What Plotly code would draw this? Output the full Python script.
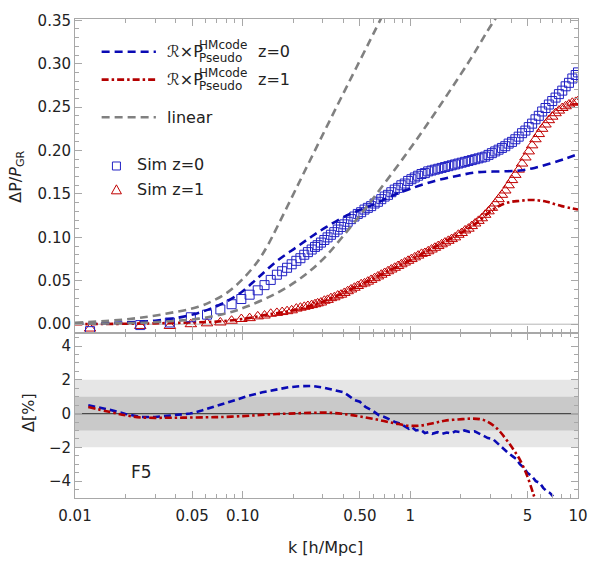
import plotly.graph_objects as go
from plotly.subplots import make_subplots

# ---------------- data ----------------
# linear predictions (top panel)
lin0_k = [0.01, 0.0211, 0.0347, 0.0544, 0.0665, 0.0816, 0.1, 0.1226, 0.1403, 0.1606, 0.2106, 0.2512,
          0.3626, 0.668, 0.8144]
lin0_v = [0.0015, 0.006, 0.012, 0.020, 0.027, 0.037, 0.052, 0.072, 0.090, 0.112, 0.158, 0.188,
          0.250, 0.352, 0.386]
lin1_k = [0.01, 0.0276, 0.0544, 0.0816, 0.1069, 0.1606, 0.2106, 0.258, 0.3162, 0.3877, 0.494, 0.623,
          0.97, 1.40, 2.0, 2.42, 2.87, 3.3]
lin1_v = [0.0005, 0.002, 0.0064, 0.013, 0.0206, 0.036, 0.050, 0.063, 0.079, 0.099, 0.124, 0.149,
          0.199, 0.243, 0.288, 0.313, 0.337, 0.355]

# HMcode x Reaction predictions (top panel)
hm0_k = [0.01, 0.02, 0.03, 0.04, 0.0544, 0.0665, 0.0816, 0.100, 0.1226, 0.1606, 0.2106, 0.258, 0.3162,
         0.4147, 0.5084, 0.623, 0.78, 1.0, 1.4, 1.92, 2.5, 3.5, 4.5, 5.5, 6.83, 8.5, 10.0]
hm0_v = [0.0005, 0.002, 0.004, 0.007, 0.013, 0.019, 0.027, 0.038, 0.053, 0.073, 0.089, 0.101, 0.112,
         0.125, 0.132, 0.139, 0.148, 0.156, 0.165, 0.171, 0.175, 0.176, 0.177, 0.180, 0.185, 0.191, 0.196]
hm1_k = [0.01, 0.02, 0.03, 0.05, 0.07, 0.1, 0.15, 0.2, 0.3, 0.5, 0.7, 1.0, 1.5, 2.0, 2.5, 3.0, 3.45, 4.0,
         4.5, 5.0, 5.5, 6.5, 8.0, 10.0]
hm1_v = [0.0, 0.0005, 0.001, 0.002, 0.003, 0.006, 0.012, 0.016, 0.026, 0.045, 0.059, 0.074, 0.092, 0.105,
         0.117, 0.130, 0.137, 0.141, 0.142, 0.143, 0.143, 0.141, 0.136, 0.132]

# simulation measurements (top panel)
sim_k = [0.0123, 0.0245, 0.0368, 0.0491, 0.0613, 0.0736, 0.0859, 0.0982, 0.110, 0.123, 0.135, 0.147,
         0.160, 0.172, 0.184, 0.196, 0.209, 0.221, 0.233, 0.245, 0.258, 0.270,
         0.28, 0.293, 0.307, 0.321, 0.336, 0.352, 0.369, 0.386, 0.404, 0.423, 0.443, 0.464, 0.486, 0.509,
         0.533, 0.558, 0.584, 0.612, 0.641, 0.671, 0.703, 0.736, 0.770, 0.807, 0.845, 0.884, 0.926, 0.970,
         1.015, 1.063, 1.113, 1.166, 1.221, 1.278, 1.338, 1.401, 1.467, 1.537, 1.609, 1.685, 1.764, 1.847,
         1.934, 2.025, 2.121, 2.221, 2.325, 2.435, 2.549, 2.669, 2.795, 2.927, 3.065, 3.209, 3.360, 3.519,
         3.684, 3.858, 4.040, 4.230, 4.429, 4.638, 4.856, 5.085, 5.325, 5.576, 5.838, 6.113, 6.401, 6.703,
         7.019, 7.349, 7.696, 8.058, 8.438, 8.836, 9.252, 9.688, 10.0]
sim0_v = [-0.008, -0.001, 0.002, 0.008, 0.011, 0.017, 0.023, 0.029, 0.034, 0.039, 0.045, 0.051,
          0.057, 0.061, 0.065, 0.069, 0.073, 0.076, 0.080, 0.083, 0.086, 0.089,
          0.091, 0.094, 0.097, 0.100, 0.103, 0.106, 0.109, 0.112, 0.115, 0.118, 0.121, 0.124, 0.127, 0.129,
          0.132, 0.134, 0.136, 0.139, 0.141, 0.144, 0.147, 0.149, 0.152, 0.155, 0.157, 0.160, 0.162, 0.165,
          0.167, 0.169, 0.171, 0.173, 0.174, 0.176, 0.177, 0.178, 0.179, 0.180, 0.181, 0.182, 0.183, 0.184,
          0.185, 0.186, 0.187, 0.188, 0.189, 0.190, 0.191, 0.192, 0.193, 0.195, 0.197, 0.199, 0.201, 0.203,
          0.205, 0.208, 0.210, 0.213, 0.216, 0.220, 0.223, 0.227, 0.231, 0.236, 0.240, 0.245, 0.249, 0.253,
          0.257, 0.261, 0.265, 0.269, 0.274, 0.278, 0.283, 0.287, 0.290]
sim1_v = [-0.005, -0.002, -0.002, 0.000, 0.001, 0.002, 0.004, 0.006, 0.007, 0.009, 0.010, 0.012,
          0.013, 0.014, 0.015, 0.016, 0.018, 0.019, 0.020, 0.021, 0.022, 0.023,
          0.024, 0.025, 0.027, 0.028, 0.030, 0.031, 0.033, 0.034, 0.036, 0.038, 0.040, 0.042, 0.044, 0.046,
          0.047, 0.049, 0.051, 0.053, 0.055, 0.057, 0.059, 0.061, 0.063, 0.065, 0.067, 0.069, 0.071, 0.073,
          0.075, 0.077, 0.079, 0.081, 0.082, 0.084, 0.086, 0.088, 0.090, 0.092, 0.094, 0.096, 0.098, 0.100,
          0.103, 0.105, 0.108, 0.110, 0.113, 0.116, 0.119, 0.122, 0.126, 0.130, 0.134, 0.139, 0.144, 0.149,
          0.154, 0.160, 0.166, 0.172, 0.178, 0.185, 0.192, 0.199, 0.206, 0.213, 0.219, 0.225, 0.230, 0.235,
          0.239, 0.243, 0.246, 0.249, 0.251, 0.253, 0.255, 0.256, 0.257]

# relative difference (bottom panel, %)
d0_k = [0.012, 0.0157, 0.02, 0.0247, 0.03, 0.0338, 0.04, 0.0486, 0.057, 0.0664, 0.08, 0.095, 0.11, 0.131,
        0.16, 0.188, 0.22, 0.26, 0.3, 0.33, 0.36, 0.4, 0.43, 0.465, 0.5, 0.54, 0.6, 0.65, 0.7, 0.75, 0.81,
        0.87, 0.93, 0.98, 1.02, 1.08, 1.15, 1.22, 1.28, 1.35, 1.45, 1.55, 1.65, 1.75, 1.85, 2.0, 2.1, 2.25,
        2.42, 2.6, 2.75, 2.9, 3.1, 3.3, 3.45, 3.6, 3.8, 4.1, 4.3, 4.5, 4.75, 4.98, 5.3, 5.6, 5.9, 6.2, 6.5,
        6.8, 7.1]
d0_v = [0.49, 0.25, -0.02, -0.2, -0.2, -0.16, -0.1, 0.0, 0.18, 0.39, 0.65, 0.88, 1.07, 1.26, 1.45, 1.56,
        1.62, 1.64, 1.55, 1.46, 1.40, 1.26, 1.05, 0.8, 0.7, 0.39, 0.15, -0.1, -0.2, -0.35, -0.5, -0.6, -0.75,
        -0.9, -0.8, -1.0, -0.95, -1.15, -1.1, -1.2, -1.1, -1.2, -1.12, -1.18, -1.05, -1.1, -1.0, -1.08, -1.05,
        -1.2, -1.3, -1.45, -1.5, -1.75, -1.95, -2.1, -2.3, -2.55, -2.7, -3.0, -3.2, -3.5, -3.7, -4.0, -4.1,
        -4.4, -4.6, -4.7, -4.9]
d1_k = [0.012, 0.0157, 0.02, 0.0247, 0.035, 0.0443, 0.06, 0.0763, 0.1, 0.12, 0.15, 0.188, 0.25, 0.33, 0.42,
        0.52, 0.65, 0.81, 0.98, 1.17, 1.4, 1.6, 1.92, 2.3, 2.6, 2.9, 3.3, 3.75, 4.1, 4.5, 4.98, 5.39, 5.6]
d1_v = [0.39, 0.12, -0.1, -0.23, -0.25, -0.24, -0.22, -0.2, -0.15, -0.1, -0.04, 0.0, 0.04, 0.05, -0.05,
        -0.2, -0.38, -0.58, -0.72, -0.7, -0.55, -0.42, -0.35, -0.3, -0.33, -0.49, -0.9, -1.56, -2.1, -2.73,
        -3.7, -4.7, -5.2]

x_tickvals = [0.01, 0.05, 0.1, 0.5, 1, 5, 10]
x_ticktext = ["0.01", "0.05", "0.10", "0.50", "1", "5", "10"]
x_minor = [0.02, 0.03, 0.04, 0.06, 0.07, 0.08, 0.09, 0.2, 0.3, 0.4, 0.6, 0.7, 0.8, 0.9,
           2, 3, 4, 6, 7, 8, 9]

# ---------------- style ----------------
BLUE = "#0a0ab4"
RED = "#b40000"
GRAY = "#808080"
SQ = "#2222c4"
TRI = "#c00000"
FONT = "DejaVu Sans"
TXT = "#222222"
FRAME = "#a8a8a8"
DASH = "8px,5px"
DASHDOT = "7px,3px,2.5px,3px"

fig = make_subplots(rows=2, cols=1, shared_xaxes=True, vertical_spacing=0)

# top panel
fig.add_trace(go.Scatter(x=hm1_k, y=hm1_v, mode="lines", line_shape="spline",
                         line=dict(color=RED, width=2.6, dash=DASHDOT)), row=1, col=1)
fig.add_trace(go.Scatter(x=sim_k, y=sim1_v, mode="markers",
                         marker=dict(symbol="triangle-up-open", size=10, color=TRI,
                                     line=dict(width=1, color=TRI))), row=1, col=1)
fig.add_trace(go.Scatter(x=sim_k, y=sim0_v, mode="markers",
                         marker=dict(symbol="square-open", size=9, color=SQ,
                                     line=dict(width=1, color=SQ))), row=1, col=1)
fig.add_trace(go.Scatter(x=hm0_k, y=hm0_v, mode="lines", line_shape="spline",
                         line=dict(color=BLUE, width=2.6, dash=DASH)), row=1, col=1)
fig.add_trace(go.Scatter(x=lin0_k, y=lin0_v, mode="lines", line_shape="spline",
                         line=dict(color=GRAY, width=2.6, dash=DASH)), row=1, col=1)
fig.add_trace(go.Scatter(x=lin1_k, y=lin1_v, mode="lines", line_shape="spline",
                         line=dict(color=GRAY, width=2.6, dash=DASH)), row=1, col=1)

# bottom panel
fig.add_trace(go.Scatter(x=d0_k, y=d0_v, mode="lines",
                         line=dict(color=BLUE, width=2.6, dash="7px,4px")), row=2, col=1)
fig.add_trace(go.Scatter(x=d1_k, y=d1_v, mode="lines", line_shape="spline",
                         line=dict(color=RED, width=2.6, dash=DASHDOT)), row=2, col=1)

# plot geometry (pixels) used for overlay positioning
L, R, T, B = 75, 585, 16, 498.3
W, H = R - L, B - T


def px(xp, yp):
    return (xp - L) / W, (B - yp) / H


split = (B - 331.7) / H

shapes = [
    dict(type="rect", xref="x2 domain", yref="y2", x0=0, x1=1, y0=-2, y1=2,
         fillcolor="#e6e6e6", line_width=0, layer="below"),
    dict(type="rect", xref="x2 domain", yref="y2", x0=0, x1=1, y0=-1, y1=1,
         fillcolor="#c9c9c9", line_width=0, layer="below"),
    dict(type="line", xref="x2 domain", yref="y2", x0=0, x1=1, y0=0, y1=0,
         line=dict(color="#4a4a4a", width=1.2), layer="below"),
    dict(type="line", xref="x domain", yref="y", x0=0, x1=1, y0=0, y1=0,
         line=dict(color="#b5b5b5", width=1), layer="below"),
]

# hand-drawn legend
leg_rows = [(49, BLUE, DASH), (77, RED, DASHDOT), (115, GRAY, DASH)]
for yy, col, dsh in leg_rows:
    x0, y0 = px(102, yy)
    x1, _ = px(157, yy)
    shapes.append(dict(type="line", xref="paper", yref="paper", x0=x0, x1=x1, y0=y0, y1=y0,
                       line=dict(color=col, width=2.6, dash=dsh)))
sx, sy = px(117, 164)
shapes.append(dict(type="rect", xref="paper", yref="paper", xsizemode="pixel", ysizemode="pixel",
                   xanchor=sx, yanchor=sy, x0=-4, x1=4, y0=-4, y1=4,
                   line=dict(color=SQ, width=1)))
tx, ty = px(117, 188)
shapes.append(dict(type="path", xref="paper", yref="paper", xsizemode="pixel", ysizemode="pixel",
                   xanchor=tx, yanchor=ty, path="M -5 -4 L 5 -4 L 0 5 Z",
                   line=dict(color=TRI, width=1)))

ann = []


def add_text(text, xpix, ypix, size=16, anchor="left", angle=0):
    xa, ya = px(xpix, ypix)
    ann.append(dict(text=text, x=xa, y=ya, xref="paper", yref="paper", showarrow=False,
                    xanchor=anchor, yanchor="middle", textangle=angle, borderpad=0,
                    font=dict(family=FONT, size=size, color=TXT)))


for yy, z in [(49, "z=0"), (77, "z=1")]:
    add_text("ℛ×P", 167, yy)
    add_text("HMcode", 200, yy - 7, size=12)
    add_text("Pseudo", 200, yy + 6, size=12)
    add_text(z, 260, yy)
add_text("linear", 167, 115)
add_text("Sim z=0", 137, 163)
add_text("Sim z=1", 137, 188)
add_text("F5", 142, 472, size=17, anchor="center")
add_text("ΔP/<i>P</i><sub>GR</sub>", 16, 175, anchor="center", angle=-90)
add_text("Δ[%]", 28, 412, anchor="center", angle=-90)
add_text("k [h/Mpc]", 329, 548, anchor="center")

axis_common = dict(showline=True, linecolor=FRAME, linewidth=1, mirror="ticks", ticks="inside",
                   ticklen=7, tickcolor=FRAME, tickwidth=1, showgrid=False, zeroline=False,
                   tickfont=dict(family=FONT, size=15, color=TXT))

fig.update_xaxes(type="log", range=[-2, 1], tickvals=x_tickvals, ticktext=x_ticktext,
                 minor=dict(tickvals=x_minor, ticks="inside", ticklen=4, tickcolor=FRAME),
                 ticklabelstandoff=4, **axis_common)
fig.update_xaxes(showticklabels=False, row=1, col=1)
fig.update_yaxes(range=[-0.0096, 0.3515], tickvals=[0, 0.05, 0.1, 0.15, 0.2, 0.25, 0.3, 0.35],
                 tickformat=".2f",
                 minor=dict(dtick=0.01, ticks="inside", ticklen=4, tickcolor=FRAME),
                 domain=[split, 1], row=1, col=1, **axis_common)
fig.update_yaxes(range=[-5, 4.8], tickvals=[-4, -2, 0, 2, 4],
                 minor=dict(dtick=0.5, tick0=0, ticks="inside", ticklen=4, tickcolor=FRAME),
                 domain=[0, split], row=2, col=1, **axis_common)

fig.update_layout(width=600, height=563, showlegend=False,
                  margin=dict(l=L, r=600 - R, t=T, b=563 - B),
                  paper_bgcolor="white", plot_bgcolor="white",
                  shapes=shapes, annotations=ann)

fig.write_html("out.html")
